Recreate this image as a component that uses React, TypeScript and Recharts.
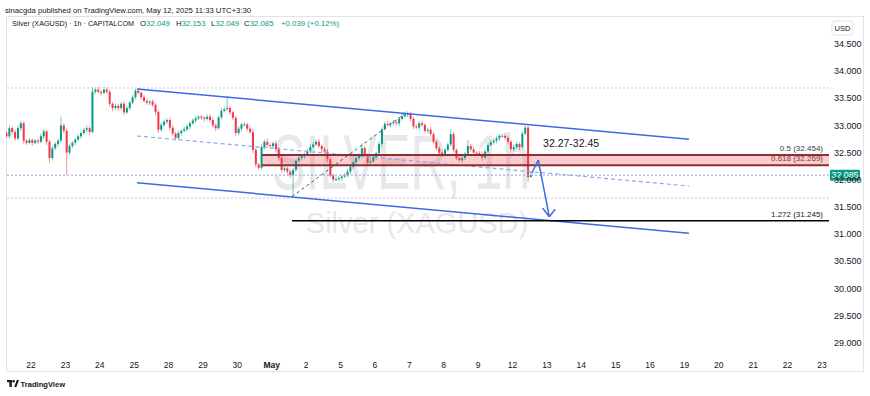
import React from 'react';
import { ComposedChart, Bar, XAxis, YAxis, ReferenceLine, ReferenceArea, ReferenceDot } from 'recharts';

const FONT = '"Liberation Sans", Arial, sans-serif';
const TEXT = '#131722';
const UP = '#089981';
const DOWN = '#f23645';

// time axis (trading days, index = position)
const dayLabels = ['22', '23', '24', '25', '28', '29', '30', 'May', '2', '5', '6', '7', '8', '9', '12', '13', '14', '15', '16', '19', '20', '21', '22', '23'];
const dayTicks = dayLabels.map((_, i) => i);
const priceTicks = [29, 29.5, 30, 30.5, 31, 31.5, 32, 32.5, 33, 33.5, 34, 34.5];

// candles: 12 per trading day, first one starts 0.70 day before "22"
const candleStartDay = -0.7;
const candlesPerDay = 12;
const firstOpen = 32.86;
const closes = [
  32.80, 32.95, 32.88, 32.76, 32.95, 33.04, 32.72, 32.68, 32.73, 32.68, 32.72, 32.70,
  32.80, 32.89, 32.70, 32.40, 32.58, 32.66, 32.72, 33.00, 32.90, 32.50, 32.62, 32.68,
  32.74, 32.80, 32.86, 32.92, 32.95, 32.88, 33.62, 33.66, 33.62, 33.60, 33.66, 33.62,
  33.40, 33.32, 33.36, 33.32, 33.40, 33.24, 33.32, 33.42, 33.52, 33.64, 33.60, 33.52,
  33.45, 33.42, 33.44, 33.38, 33.25, 32.92, 33.01, 33.07, 33.10, 32.96, 32.85, 32.77,
  32.86, 32.90, 32.93, 32.98, 33.04, 33.09, 33.13, 33.16, 33.14, 33.12, 33.16, 33.10,
  33.00, 32.95, 33.15, 33.27, 33.30, 33.32, 33.24, 33.14, 32.86, 32.94, 33.02, 33.02,
  32.94, 32.88, 32.55, 32.28, 32.22, 32.60, 32.70, 32.64, 32.62, 32.67, 32.56, 32.40,
  32.18, 32.21, 32.15, 32.09, 32.18, 32.35, 32.40, 32.43, 32.47, 32.53, 32.60, 32.65,
  32.70, 32.62, 32.56, 32.52, 32.38, 32.08, 32.00, 32.01, 32.03, 32.06, 32.08, 32.15,
  32.24, 32.32, 32.40, 32.44, 32.58, 32.45, 32.32, 32.34, 32.42, 32.49, 32.66, 32.93,
  33.03, 33.02, 33.04, 33.06, 33.04, 33.12, 33.17, 33.20, 33.22, 33.12, 32.98, 32.96,
  33.04, 33.01, 32.90, 32.92, 32.84, 32.70, 32.58, 32.50, 32.47, 32.55, 32.65, 32.84,
  32.55, 32.40, 32.36, 32.40, 32.48, 32.62, 32.56, 32.50, 32.49, 32.47, 32.41, 32.52,
  32.64, 32.69, 32.72, 32.76, 32.81, 32.81, 32.77, 32.70, 32.56, 32.60, 32.66, 32.60,
  32.85, 32.96, 32.049, 32.085,
];
const upperWicks = [
  0.04, 0.05, 0.03, 0.04, 0.05, 0.04, 0.03, 0.03, 0.04, 0.03, 0.03, 0.04,
  0.05, 0.04, 0.03, 0.04, 0.05, 0.03, 0.04, 0.16, 0.04, 0.05, 0.04, 0.03,
  0.03, 0.04, 0.03, 0.04, 0.05, 0.04, 0.08, 0.04, 0.05, 0.03, 0.05, 0.04,
  0.04, 0.03, 0.05, 0.04, 0.03, 0.04, 0.05, 0.03, 0.04, 0.03, 0.04, 0.03,
  0.04, 0.05, 0.03, 0.04, 0.03, 0.04, 0.05, 0.04, 0.03, 0.04, 0.05, 0.03,
  0.04, 0.03, 0.05, 0.04, 0.03, 0.04, 0.05, 0.03, 0.04, 0.03, 0.04, 0.05,
  0.05, 0.04, 0.03, 0.05, 0.04, 0.21, 0.04, 0.03, 0.04, 0.05, 0.03, 0.04,
  0.03, 0.04, 0.05, 0.04, 0.03, 0.05, 0.04, 0.06, 0.04, 0.03, 0.05, 0.04,
  0.05, 0.04, 0.03, 0.05, 0.04, 0.03, 0.05, 0.04, 0.03, 0.04, 0.05, 0.04,
  0.04, 0.05, 0.03, 0.04, 0.05, 0.04, 0.03, 0.05, 0.04, 0.03, 0.04, 0.05,
  0.04, 0.03, 0.05, 0.04, 0.09, 0.04, 0.03, 0.05, 0.04, 0.03, 0.05, 0.04,
  0.04, 0.05, 0.03, 0.04, 0.05, 0.03, 0.04, 0.05, 0.04, 0.03, 0.04, 0.05,
  0.04, 0.05, 0.03, 0.04, 0.05, 0.04, 0.03, 0.04, 0.05, 0.04, 0.03, 0.09,
  0.04, 0.03, 0.05, 0.04, 0.03, 0.11, 0.04, 0.05, 0.03, 0.04, 0.05, 0.04,
  0.03, 0.04, 0.05, 0.04, 0.03, 0.04, 0.05, 0.04, 0.03, 0.05, 0.04, 0.03,
  0.04, 0.04, 0.04, 0.068,
];
const lowerWicks = [
  0.03, 0.04, 0.05, 0.04, 0.03, 0.05, 0.06, 0.04, 0.03, 0.05, 0.03, 0.04,
  0.03, 0.05, 0.06, 0.08, 0.04, 0.03, 0.05, 0.04, 0.05, 0.41, 0.04, 0.03,
  0.04, 0.03, 0.04, 0.03, 0.04, 0.06, 0.03, 0.04, 0.03, 0.05, 0.03, 0.04,
  0.05, 0.06, 0.03, 0.05, 0.04, 0.05, 0.03, 0.04, 0.03, 0.04, 0.03, 0.05,
  0.03, 0.04, 0.05, 0.04, 0.06, 0.06, 0.04, 0.03, 0.04, 0.05, 0.04, 0.05,
  0.04, 0.05, 0.03, 0.04, 0.05, 0.03, 0.04, 0.03, 0.04, 0.05, 0.03, 0.04,
  0.04, 0.06, 0.03, 0.04, 0.03, 0.04, 0.05, 0.04, 0.06, 0.04, 0.05, 0.03,
  0.05, 0.04, 0.06, 0.05, 0.04, 0.03, 0.04, 0.05, 0.03, 0.04, 0.05, 0.06,
  0.05, 0.04, 0.05, 0.06, 0.40, 0.04, 0.03, 0.04, 0.05, 0.03, 0.04, 0.03,
  0.03, 0.04, 0.05, 0.04, 0.05, 0.04, 0.05, 0.03, 0.04, 0.05, 0.03, 0.04,
  0.05, 0.04, 0.03, 0.05, 0.04, 0.03, 0.05, 0.04, 0.03, 0.05, 0.04, 0.05,
  0.03, 0.04, 0.05, 0.03, 0.04, 0.05, 0.03, 0.04, 0.05, 0.04, 0.05, 0.03,
  0.05, 0.03, 0.04, 0.05, 0.03, 0.04, 0.05, 0.06, 0.05, 0.04, 0.03, 0.04,
  0.05, 0.04, 0.03, 0.05, 0.04, 0.03, 0.04, 0.05, 0.04, 0.03, 0.06, 0.04,
  0.04, 0.03, 0.04, 0.05, 0.04, 0.03, 0.04, 0.05, 0.06, 0.04, 0.03, 0.05,
  0.03, 0.03, 0.089, 0.0,
];

// drawings (x in trading-day units, y in price)
const channelUpper = [{ x: 3.08, y: 33.671 }, { x: 19.13, y: 32.745 }];
const channelLower = [{ x: 3.08, y: 31.946 }, { x: 19.13, y: 31.014 }];
const channelMid = [{ x: 3.08, y: 32.806 }, { x: 19.13, y: 31.885 }];
const fibTrend = [{ x: 7.59, y: 31.69 }, { x: 10.875, y: 33.22 }];
const fibZoneStart = 6.717;
const fibExtStart = 7.59;
const fibHalf = 32.454;
const fibGolden = 32.269;
const fibExt = 31.245;
const arrowPath = [{ x: 14.56, y: 32.119 }, { x: 14.75, y: 32.364 }, { x: 15.07, y: 31.32 }];
const arrowHeadLeft = { x: 14.88, y: 31.474 };
const arrowHeadRight = { x: 15.24, y: 31.456 };
const zoneLabel = { x: 14.89, y: 32.677, text: '32.27-32.45' };
const lastPrice = 32.085;
const grayLevels = [33.69, 31.664];

const X_DOMAIN = [-0.727, 23.204];
const Y_DOMAIN = [28.791, 34.997];

const candles = closes.map((c, i) => {
  const o = i === 0 ? firstOpen : closes[i - 1];
  const hi = Math.max(o, c) + upperWicks[i];
  const lo = Math.min(o, c) - lowerWicks[i];
  return { t: candleStartDay + i / candlesPerDay, o, c, hi, lo, range: [lo, hi] };
});

const Candle = (props: any) => {
  const { x, y, width, height, payload } = props;
  if (!payload || !isFinite(height)) return null;
  const { o, c, hi, lo } = payload;
  const color = c >= o ? UP : DOWN;
  const ratio = height / (hi - lo);
  const bodyTop = y + (hi - Math.max(o, c)) * ratio;
  const bodyH = Math.max(1, Math.abs(o - c) * ratio);
  const cx = x + width / 2;
  return (
    <g>
      <line x1={cx} x2={cx} y1={y} y2={y + height} stroke={color} strokeOpacity={0.55} strokeWidth={1} />
      <rect x={x} y={bodyTop} width={width} height={bodyH} fill={color} />
    </g>
  );
};

const endLabel = (text: string, color: string) => (props: any) => {
  const vb = props.viewBox || {};
  return (
    <text x={vb.x + vb.width - 6} y={vb.y - 4} textAnchor="end" fontSize={8} fill={color} fontFamily={FONT}>
      {text}
    </text>
  );
};

const priceBox = (props: any) => {
  const vb = props.viewBox || {};
  const bx = vb.x + vb.width + 1;
  return (
    <g>
      <rect x={bx} y={vb.y - 5.5} width={30} height={11} rx={1} fill={UP} />
      <text x={bx + 15} y={vb.y} dy="0.35em" textAnchor="middle" fontSize={8.8} fill="#ffffff" fontFamily={FONT}>
        {lastPrice.toFixed(3)}
      </text>
    </g>
  );
};

const zoneText = (props: any) => {
  const vb = props.viewBox || {};
  return (
    <text x={vb.x} y={vb.y} dy="0.35em" fontSize={10.5} fill={TEXT} fontFamily={FONT}>
      {zoneLabel.text}
    </text>
  );
};

const DayTick = (props: any) => {
  const { x, y, payload } = props;
  const label = dayLabels[payload.value];
  return (
    <text x={x} y={y} dy={7.5} textAnchor="middle" fontSize={8.5} fontWeight={label === 'May' ? 700 : 400} fill={TEXT} fontFamily={FONT}>
      {label}
    </text>
  );
};

const BLUE = '#3a6ae6';

export default function App() {
  return (
    <div style={{ position: 'absolute', left: 0, top: 0, width: 870, height: 396, background: '#ffffff', fontFamily: FONT }}>
      <svg width={870} height={396} style={{ position: 'absolute', left: 0, top: 0 }}>
        <text x={5} y={12.5} fontSize={7.7} fill={TEXT} fontFamily={FONT}>
          sinacgda published on TradingView.com, May 12, 2025 11:33 UTC+3:30
        </text>
        <rect x={6.5} y={16.5} width={857} height={355} fill="none" stroke="#e0e3eb" />
        <g transform="translate(272,189) scale(0.643,1)">
          <text x={0} y={0} fontSize={78} fill="#e7e8eb" fontFamily={FONT}>
            SILVER, 1h
          </text>
        </g>
        <text x={417} y={233} fontSize={29} textAnchor="middle" fill="#e7e8eb" fontFamily={FONT}>
          Silver (XAGUSD)
        </text>
        <text x={12} y={26} fontSize={7.2} fill={TEXT} fontFamily={FONT}>
          Silver (XAGUSD) · 1h · CAPITALCOM
        </text>
        <text y={26} fontSize={7.8} fill={TEXT} fontFamily={FONT}>
          <tspan x={140}>O</tspan><tspan fill={UP}>32.049</tspan>
          <tspan x={176}>H</tspan><tspan fill={UP}>32.153</tspan>
          <tspan x={211}>L</tspan><tspan fill={UP}>32.049</tspan>
          <tspan x={244}>C</tspan><tspan fill={UP}>32.085</tspan>
          <tspan x={281} fill={UP}>+0.039 (+0.12%)</tspan>
        </text>
        <rect x={832} y={21} width={21} height={14} rx={2} fill="#ffffff" stroke="#e0e3eb" />
        <text x={842.5} y={28} dy="0.35em" textAnchor="middle" fontSize={7.5} fill={TEXT} fontFamily={FONT}>USD</text>
        <g fill={TEXT}>
          <rect x={7} y={380} width={5} height={2.2} />
          <rect x={9.4} y={380} width={2.4} height={7} />
          <circle cx={13.6} cy={381.3} r={1.2} />
          <polygon points="14.2,387 16.8,380 19,380 16.4,387" />
        </g>
        <text x={20.5} y={387} fontSize={7.6} fontWeight={700} fill={TEXT} fontFamily={FONT}>TradingView</text>
      </svg>
      <div style={{ position: 'absolute', left: 0, top: 0 }}>
        <ComposedChart
          width={870}
          height={396}
          data={candles}
          margin={{ top: 17, right: 6, bottom: 24, left: 6 }}
          style={{ fontFamily: FONT }}
        >
          <XAxis
            type="number"
            dataKey="t"
            domain={X_DOMAIN}
            ticks={dayTicks}
            interval={0}
            allowDataOverflow
            axisLine={false}
            tickLine={false}
            height={18}
            tickSize={4}
            tickMargin={2}
            tick={(p: any) => <DayTick {...p} />}
          />
          <YAxis
            orientation="right"
            type="number"
            domain={Y_DOMAIN}
            ticks={priceTicks}
            interval={0}
            allowDataOverflow
            axisLine={false}
            tickLine={false}
            width={35}
            tickSize={3}
            tickMargin={2}
            tick={{ fontSize: 9, fill: TEXT, fontFamily: FONT }}
            tickFormatter={(v: number) => v.toFixed(3)}
          />
          {grayLevels.map((v) => (
            <ReferenceLine key={v} y={v} stroke="#c3c6ce" strokeDasharray="2 2" strokeWidth={1} />
          ))}
          <ReferenceArea x1={fibZoneStart} x2={X_DOMAIN[1]} y1={fibGolden} y2={fibHalf} fill={DOWN} fillOpacity={0.25} stroke="none" />
          <ReferenceLine segment={fibTrend} stroke="#555555" strokeDasharray="3 3" strokeWidth={1} />
          <Bar dataKey="range" barSize={2} isAnimationActive={false} shape={(p: any) => <Candle {...p} />} />
          <ReferenceLine y={lastPrice} stroke="#8aa0d8" strokeDasharray="2 2" strokeWidth={1} label={priceBox} />
          <ReferenceLine segment={channelMid} stroke="#8fa8e6" strokeDasharray="4 3" strokeWidth={1.2} />
          <ReferenceLine segment={channelUpper} stroke={BLUE} strokeWidth={1.5} />
          <ReferenceLine segment={channelLower} stroke={BLUE} strokeWidth={1.5} />
          <ReferenceLine
            segment={[{ x: fibZoneStart, y: fibHalf }, { x: X_DOMAIN[1], y: fibHalf }]}
            stroke="#8a2f33"
            strokeWidth={2}
            label={endLabel('0.5 (32.454)', '#3b3d45')}
          />
          <ReferenceLine
            segment={[{ x: fibZoneStart, y: fibGolden }, { x: X_DOMAIN[1], y: fibGolden }]}
            stroke="#8a2f33"
            strokeWidth={2}
            label={endLabel('0.618 (32.269)', '#8a2f33')}
          />
          <ReferenceLine
            segment={[{ x: fibExtStart, y: fibExt }, { x: X_DOMAIN[1], y: fibExt }]}
            stroke="#000000"
            strokeWidth={1.5}
            label={endLabel('1.272 (31.245)', TEXT)}
          />
          <ReferenceLine segment={[arrowPath[0], arrowPath[1]]} stroke={BLUE} strokeWidth={1.5} />
          <ReferenceLine segment={[arrowPath[1], arrowPath[2]]} stroke={BLUE} strokeWidth={1.5} />
          <ReferenceLine segment={[arrowPath[2], arrowHeadLeft]} stroke={BLUE} strokeWidth={1.5} />
          <ReferenceLine segment={[arrowPath[2], arrowHeadRight]} stroke={BLUE} strokeWidth={1.5} />
          <ReferenceDot x={zoneLabel.x} y={zoneLabel.y} r={0} fill="none" stroke="none" label={zoneText} />
        </ComposedChart>
      </div>
    </div>
  );
}
